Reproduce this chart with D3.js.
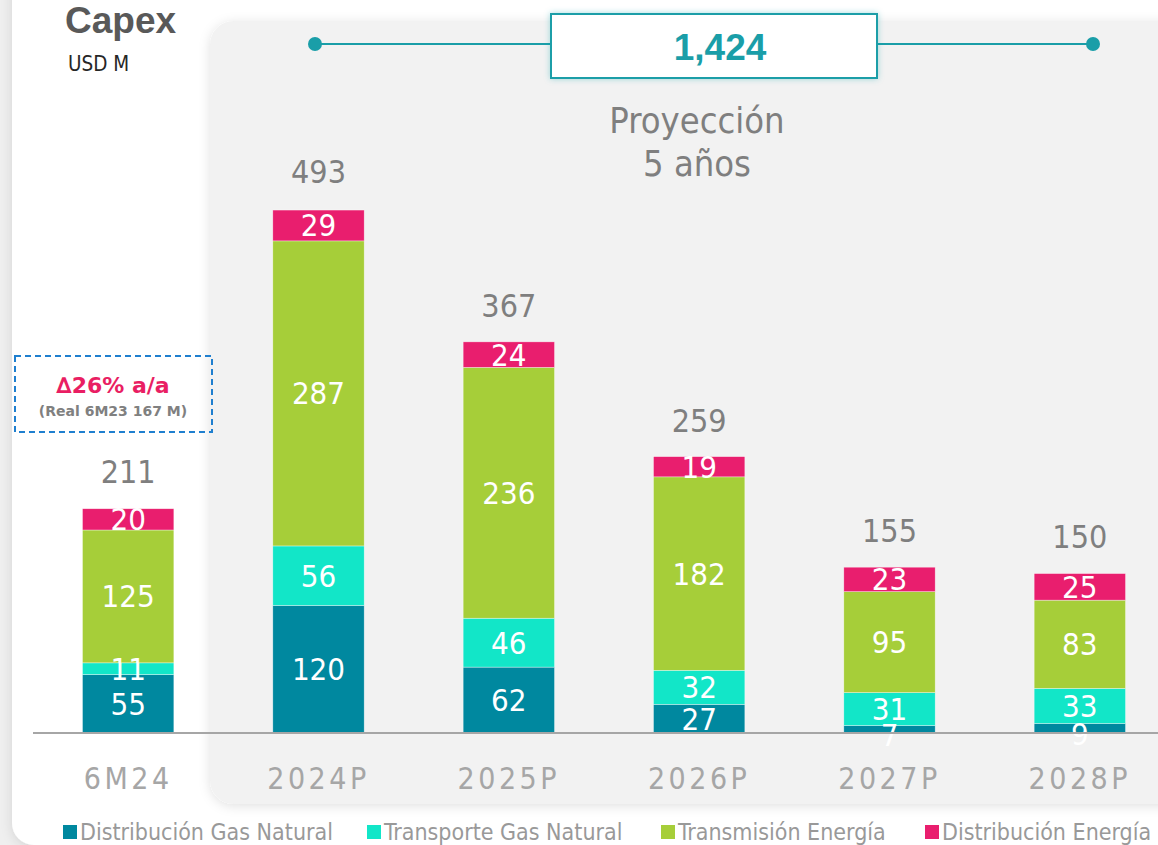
<!DOCTYPE html>
<html>
<head>
<meta charset="utf-8">
<script src="https://cdn.jsdelivr.net/npm/d3@7"></script>
<style>
  body { margin: 0; background: #efefef; }
  svg { display: block; }
</style>
</head>
<body>
<svg id="chart" width="1158" height="845"></svg>
<script>
const categories = ['6M24', '2024P', '2025P', '2026P', '2027P', '2028P']
const seriesNames = ['Distribución Gas Natural', 'Transporte Gas Natural', 'Transmisión Energía', 'Distribución Energía']
const distGas = [55, 120, 62, 27, 7, 9]
const transGas = [11, 56, 46, 32, 31, 33]
const transEnergia = [125, 287, 236, 182, 95, 83]
const distEnergia = [20, 29, 24, 19, 23, 25]
const totals = [211, 493, 367, 259, 155, 150]
const colors = ['#00889f', '#12e6c8', '#a6ce39', '#e91e6e']
const projectionTotal = '1,424'

const font = '"DejaVu Sans Condensed", "DejaVu Sans", sans-serif'
const svg = d3.select('#chart')

const defs = svg.append('defs')
const shadow = defs.append('filter').attr('id', 'shadow')
    .attr('x', '-10%').attr('y', '-10%').attr('width', '120%').attr('height', '120%')
shadow.append('feDropShadow')
    .attr('dx', 0).attr('dy', 2).attr('stdDeviation', 6)
    .attr('flood-color', '#000').attr('flood-opacity', 0.12)
const glow = defs.append('filter').attr('id', 'glow')
    .attr('x', '-20%').attr('y', '-40%').attr('width', '140%').attr('height', '180%')
glow.append('feDropShadow')
    .attr('dx', 0).attr('dy', 0).attr('stdDeviation', 3)
    .attr('flood-color', '#1a9ea8').attr('flood-opacity', 0.35)

// outer card + projection panel
svg.append('rect')
    .attr('x', 12).attr('y', -30).attr('width', 1170).attr('height', 875)
    .attr('rx', 22).attr('fill', '#fff').attr('filter', 'url(#shadow)')
svg.append('rect')
    .attr('x', 210).attr('y', 21).attr('width', 980).attr('height', 783)
    .attr('rx', 24).attr('fill', '#f2f2f2').attr('filter', 'url(#shadow)')

const baseY = 733
const x = d3.scaleBand()
    .domain(categories)
    .range([33, 1175])
    .paddingInner(0.52)
    .paddingOuter(0.26)
const y = d3.scaleLinear()
    .domain([0, 493])
    .range([baseY, 209])

const rows = categories.map((c, i) => ({
    cat: c, total: totals[i],
    values: [distGas[i], transGas[i], transEnergia[i], distEnergia[i]]
}))

const stack = d3.stack().keys([0, 1, 2, 3]).value((d, k) => d.values[k])
const layers = stack(rows)

const g = svg.append('g')
layers.forEach((layer, k) => {
    g.selectAll(null)
        .data(layer)
        .join('rect')
        .attr('x', d => x(d.data.cat))
        .attr('width', x.bandwidth())
        .attr('y', d => y(d[1]))
        .attr('height', d => y(d[0]) - y(d[1]))
        .attr('fill', colors[k])
        .attr('stroke', '#fff')
        .attr('stroke-width', 0.6)
        .attr('stroke-opacity', 0.6)
})

// single digit values sit a little below their thin segment, as in the source
layers.forEach((layer, k) => {
    g.selectAll(null)
        .data(layer)
        .join('text')
        .attr('x', d => x(d.data.cat) + x.bandwidth() / 2)
        .attr('y', d => (y(d[0]) + y(d[1])) / 2 + 11 + (d.data.values[k] < 10 ? 6 : 0))
        .attr('text-anchor', 'middle')
        .attr('font-family', font)
        .attr('font-size', 31)
        .attr('fill', '#fff')
        .text(d => d.data.values[k])
})

// totals
g.selectAll('text.total')
    .data(rows)
    .join('text')
    .attr('class', 'total')
    .attr('x', d => x(d.cat) + x.bandwidth() / 2)
    .attr('y', d => y(d.total) - 26)
    .attr('text-anchor', 'middle')
    .attr('font-family', font)
    .attr('font-size', 32)
    .attr('fill', '#7f7f7f')
    .text(d => d.total)

// baseline + category axis
svg.append('line')
    .attr('x1', 33).attr('x2', 1158)
    .attr('y1', baseY).attr('y2', baseY)
    .attr('stroke', '#a6a6a6').attr('stroke-width', 2)

const axis = svg.append('g')
    .attr('transform', `translate(0,${baseY})`)
    .call(d3.axisBottom(x).tickSize(0).tickPadding(35))
axis.select('.domain').remove()
axis.selectAll('text')
    .attr('font-family', font)
    .attr('font-size', 30)
    .attr('letter-spacing', 3.5)
    .attr('fill', '#a6a6a6')

// titles
svg.append('text')
    .attr('x', 65).attr('y', 33)
    .attr('font-family', 'Liberation Sans, Arial, sans-serif')
    .attr('font-weight', 'bold').attr('font-size', 37)
    .attr('fill', '#595959')
    .text('Capex')
svg.append('text')
    .attr('x', 68).attr('y', 71)
    .attr('font-family', font)
    .attr('font-size', 20.5)
    .attr('fill', '#262626')
    .text('USD M')

// projection bracket
svg.append('line')
    .attr('x1', 315).attr('x2', 1093)
    .attr('y1', 44).attr('y2', 44)
    .attr('stroke', '#1a9ea8').attr('stroke-width', 2)
svg.selectAll('circle.end')
    .data([315, 1093])
    .join('circle')
    .attr('class', 'end')
    .attr('cx', d => d).attr('cy', 44).attr('r', 7)
    .attr('fill', '#1a9ea8')
svg.append('rect')
    .attr('x', 551).attr('y', 14).attr('width', 326).attr('height', 64)
    .attr('fill', '#fff').attr('stroke', '#1a9ea8').attr('stroke-width', 2)
    .attr('filter', 'url(#glow)')
svg.append('text')
    .attr('x', 720).attr('y', 60)
    .attr('text-anchor', 'middle')
    .attr('font-family', 'Liberation Sans, Arial, sans-serif')
    .attr('font-weight', 'bold').attr('font-size', 37)
    .attr('fill', '#1a9ea8')
    .text(projectionTotal)
svg.append('text')
    .attr('x', 697).attr('y', 133)
    .attr('text-anchor', 'middle')
    .attr('font-family', font).attr('font-size', 36)
    .attr('fill', '#7f7f7f')
    .text('Proyección')
svg.append('text')
    .attr('x', 697).attr('y', 176)
    .attr('text-anchor', 'middle')
    .attr('font-family', font).attr('font-size', 36)
    .attr('fill', '#7f7f7f')
    .text('5 años')

// dashed annotation
svg.append('rect')
    .attr('x', 15).attr('y', 356).attr('width', 197).attr('height', 76)
    .attr('fill', 'none').attr('stroke', '#1f7fcf')
    .attr('stroke-width', 2).attr('stroke-dasharray', '6,4')
svg.append('text')
    .attr('x', 113).attr('y', 393)
    .attr('text-anchor', 'middle')
    .attr('font-family', '"DejaVu Sans", sans-serif')
    .attr('font-weight', 'bold').attr('font-size', 22)
    .attr('fill', '#e91e63')
    .text('∆26% a/a')
svg.append('text')
    .attr('x', 113).attr('y', 416)
    .attr('text-anchor', 'middle')
    .attr('font-family', '"DejaVu Sans", sans-serif')
    .attr('font-weight', 'bold').attr('font-size', 14)
    .attr('fill', '#808080')
    .text('(Real 6M23 167 M)')

// legend
const legendX = [63, 367, 661, 925]
const legend = svg.selectAll('g.legend')
    .data(seriesNames)
    .join('g')
    .attr('class', 'legend')
    .attr('transform', (d, i) => `translate(${legendX[i]},825)`)
legend.append('rect')
    .attr('width', 14).attr('height', 14)
    .attr('fill', (d, i) => colors[i])
legend.append('text')
    .attr('x', 17).attr('y', 15)
    .attr('font-family', font).attr('font-size', 23)
    .attr('fill', '#999999')
    .text(d => d)
</script>
</body>
</html>
